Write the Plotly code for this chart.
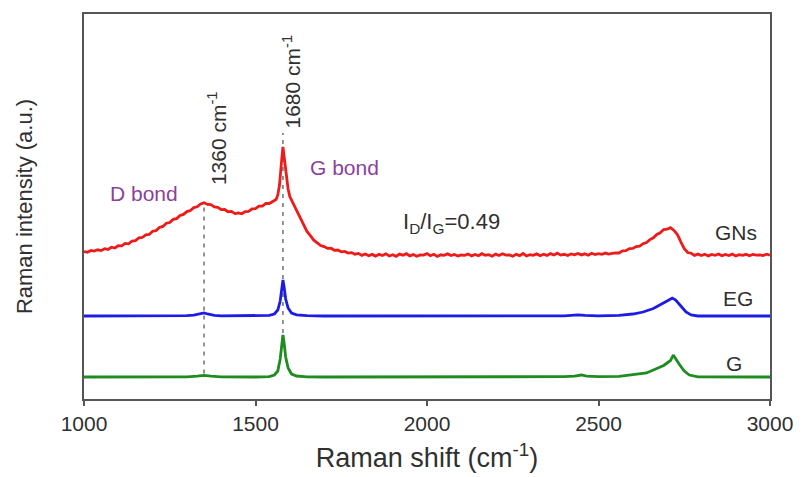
import plotly.graph_objects as go

# ---------------- data ----------------
# GNs spectrum (red), arbitrary intensity units incl. vertical offset
gns_x = [1000, 1010, 1020, 1030, 1040, 1050, 1060, 1070, 1080, 1090,
         1100, 1110, 1120, 1130, 1140, 1150, 1160, 1170, 1180, 1190,
         1200, 1210, 1220, 1230, 1240, 1250, 1260, 1270, 1280, 1290,
         1300, 1310, 1320, 1330, 1340, 1350, 1360, 1370, 1380, 1390,
         1400, 1410, 1420, 1430, 1440, 1450, 1460, 1470, 1480, 1490,
         1500, 1510, 1520, 1530, 1540, 1550, 1560, 1565, 1570, 1575,
         1580, 1585, 1590, 1595, 1600, 1610, 1620, 1630, 1640, 1650,
         1660, 1670, 1680, 1690, 1700, 1710, 1720, 1730, 1740, 1750,
         1760, 1770, 1780, 1790, 1800, 1810, 1820, 1830, 1840, 1850,
         1860, 1870, 1880, 1890, 1900, 1910, 1920, 1930, 1940, 1950,
         1960, 1970, 1980, 1990, 2000, 2010, 2020, 2030, 2040, 2050,
         2060, 2070, 2080, 2090, 2100, 2110, 2120, 2130, 2140, 2150,
         2160, 2170, 2180, 2190, 2200, 2210, 2220, 2230, 2240, 2250,
         2260, 2270, 2280, 2290, 2300, 2310, 2320, 2330, 2340, 2350,
         2360, 2370, 2380, 2390, 2400, 2410, 2420, 2430, 2440, 2450,
         2460, 2470, 2480, 2490, 2500, 2510, 2520, 2530, 2540, 2550,
         2560, 2570, 2580, 2590, 2600, 2610, 2620, 2630, 2640, 2650,
         2660, 2670, 2680, 2690, 2700, 2710, 2720, 2730, 2740, 2750,
         2760, 2770, 2780, 2790, 2800, 2810, 2820, 2830, 2840, 2850,
         2860, 2870, 2880, 2890, 2900, 2910, 2920, 2930, 2940, 2950,
         2960, 2970, 2980, 2990, 3000]
gns_y = [147.5, 146.8, 148.6, 147.9, 149.2, 148.4, 150.3, 149.6, 151.8, 151.0,
         153.4, 153.1, 155.6, 155.2, 158.0, 158.4, 161.2, 161.5, 164.1, 164.6,
         167.8, 168.4, 171.5, 172.6, 175.8, 176.5, 179.6, 180.4, 183.5, 184.6,
         187.4, 188.5, 191.4, 192.2, 195.0, 196.2, 194.6, 194.3, 192.0, 191.6,
         189.4, 189.5, 187.3, 187.6, 185.4, 186.0, 185.2, 187.4, 187.6, 190.2,
         190.4, 192.9, 193.0, 195.6, 195.5, 197.8, 199.5, 204.0, 214.0, 234.0,
         252.0, 238.0, 221.0, 210.0, 202.5, 195.4, 188.6, 180.8, 174.5, 167.6,
         163.4, 158.8, 156.2, 153.5, 152.4, 150.6, 150.8, 148.7, 149.0, 147.2,
         147.6, 145.9, 146.4, 144.8, 145.6, 143.6, 145.0, 143.2, 144.6, 142.9,
         144.8, 143.5, 145.2, 143.0, 144.3, 142.7, 144.9, 143.8, 145.3, 143.1,
         144.4, 142.8, 144.1, 143.9, 145.4, 143.3, 144.7, 142.6, 144.2, 143.7,
         145.1, 143.4, 144.5, 142.9, 144.0, 143.6, 145.0, 143.1, 144.6, 143.2,
         145.3, 143.8, 144.3, 142.8, 144.9, 143.5, 145.2, 143.9, 144.1, 142.7,
         144.6, 143.4, 145.5, 143.0, 144.4, 143.7, 145.1, 143.3, 144.8, 143.6,
         145.4, 144.0, 145.8, 143.9, 144.7, 143.5, 145.0, 144.2, 145.6, 144.1,
         145.2, 143.8, 145.7, 144.5, 145.3, 144.6, 145.9, 144.9, 145.6, 146.2,
         146.0, 148.1, 148.3, 150.4, 150.6, 152.5, 152.8, 155.3, 156.5, 159.4,
         161.2, 164.5, 166.2, 169.4, 169.8, 171.3, 168.6, 164.5, 157.2, 150.4,
         146.5, 145.8, 143.6, 144.9, 143.4, 144.8, 143.1, 144.5, 143.7, 145.0,
         143.2, 144.6, 143.5, 144.9, 143.0, 144.4, 143.6, 144.7, 143.3, 144.5,
         143.8, 144.2, 143.4, 144.8, 143.9]

# EG spectrum (blue)
eg_x = [1000, 1100, 1200, 1300, 1320, 1340, 1350, 1360, 1380, 1400,
        1500, 1540, 1555, 1565, 1572, 1577, 1580, 1583, 1588, 1595,
        1605, 1620, 1650, 1700, 1800, 2000, 2200, 2400, 2440, 2460,
        2500, 2560, 2600, 2630, 2660, 2680, 2700, 2715, 2725, 2740,
        2755, 2770, 2790, 2850, 3000]
eg_y = [83.0, 83.0, 83.2, 83.3, 83.8, 85.0, 86.0, 85.0, 83.7, 83.2,
        83.2, 83.6, 85.0, 89.0, 98.0, 112.0, 119.0, 113.0, 100.0, 91.0,
        86.0, 84.2, 83.3, 83.0, 83.0, 83.0, 83.2, 83.2, 84.2, 83.6,
        83.2, 83.6, 85.0, 87.0, 90.5, 94.0, 98.0, 101.0, 99.0, 93.0,
        87.0, 84.0, 83.0, 83.0, 83.0]

# G spectrum (green)
g_x = [1000, 1100, 1200, 1300, 1330, 1350, 1370, 1400, 1500, 1540,
       1555, 1565, 1572, 1577, 1580, 1583, 1588, 1595, 1605, 1620,
       1650, 1700, 1800, 2000, 2200, 2400, 2430, 2450, 2465, 2500,
       2560, 2600, 2640, 2670, 2690, 2700, 2710, 2718, 2725, 2735,
       2750, 2765, 2790, 2850, 3000]
g_y = [22.0, 22.0, 22.0, 22.2, 22.8, 23.6, 22.8, 22.2, 22.0, 22.3,
       24.0, 28.0, 40.0, 56.0, 64.0, 57.0, 42.0, 31.0, 25.0, 23.0,
       22.2, 22.0, 22.0, 22.0, 22.2, 22.3, 22.8, 24.0, 22.8, 22.3,
       22.6, 24.0, 26.0, 30.5, 33.5, 36.0, 38.5, 44.0, 40.0, 35.0,
       28.0, 24.0, 22.2, 22.0, 22.0]

peak_positions = [1350, 1580]          # D and G band centres
x_ticks = [1000, 1500, 2000, 2500, 3000]

RED = "#ee1b1b"
BLUE = "#1c1ce6"
GREEN = "#1e8c1e"
TEXT = "#303030"
PURPLE = "#8c3f9c"
FONT = "Liberation Sans, Arial, sans-serif"

fig = go.Figure()

# dashed guide lines at the D and G band positions (spanning from the G to GNs curve)
for px in peak_positions:
    y_low = g_y[g_x.index(min(g_x, key=lambda v: abs(v - px)))]
    y_high = gns_y[gns_x.index(min(gns_x, key=lambda v: abs(v - px)))]
    fig.add_trace(go.Scatter(
        x=[px, px], y=[y_low + 2, y_high + (14 if px == 1580 else 0)],
        mode="lines", line=dict(color="#7a7a7a", width=1.6, dash="4px,5px"),
        showlegend=False, hoverinfo="skip"))

for xs, ys, col, name in [(g_x, g_y, GREEN, "G"), (eg_x, eg_y, BLUE, "EG"),
                          (gns_x, gns_y, RED, "GNs")]:
    fig.add_trace(go.Scatter(x=xs, y=ys, mode="lines", name=name,
                             line=dict(color=col, width=2.8), showlegend=False))

ann = [
    dict(x=2968, y=167, text="GNs", xanchor="right", font=dict(size=21, color=TEXT)),
    dict(x=2955, y=101, text="EG", xanchor="right", font=dict(size=21, color=TEXT)),
    dict(x=2925, y=36, text="G", xanchor="right", font=dict(size=21, color=TEXT)),
    dict(x=1925, y=176, text="I<sub>D</sub>/I<sub>G</sub>=0.49", xanchor="left",
         font=dict(size=22, color=TEXT)),
    dict(x=1175, y=206, text="D bond", font=dict(size=21, color=PURPLE)),
    dict(x=1760, y=232, text="G bond", font=dict(size=21, color=PURPLE)),
    dict(x=1388, y=212, text="1360 cm<sup>-1</sup>", textangle=-90, yanchor="bottom",
         font=dict(size=21, color=TEXT)),
    dict(x=1605, y=268, text="1680 cm<sup>-1</sup>", textangle=-90, yanchor="bottom",
         font=dict(size=21, color=TEXT)),
]
for a in ann:
    a.setdefault("yanchor", "middle")
    a.setdefault("xanchor", "center")
    fig.add_annotation(xref="x", yref="y", showarrow=False, **a)

# the page body adds an 8px offset, so the margins compensate for it
fig.update_layout(
    width=808, height=477,
    margin=dict(l=76, r=46, t=6, b=86),
    paper_bgcolor="white", plot_bgcolor="white",
    font=dict(family=FONT, color=TEXT),
    xaxis=dict(range=[1000, 3000], tickvals=x_ticks, ticktext=[str(v) for v in x_ticks],
               ticks="outside", ticklen=5, tickwidth=1.5, tickcolor="#555",
               showline=True, linecolor="#555", linewidth=1.6, mirror=True,
               showgrid=False, zeroline=False, ticklabelstandoff=0, automargin=False,
               tickfont=dict(size=21, color=TEXT),
               title=dict(text="Raman shift (cm<sup>-1</sup>)", standoff=14,
                          font=dict(size=27, color=TEXT))),
    yaxis=dict(range=[0, 385], showticklabels=False, ticks="", automargin=False,
               showline=True, linecolor="#555", linewidth=1.6, mirror=True,
               showgrid=False, zeroline=False,
               title=dict(text="Raman intensity (a.u.)", standoff=44,
                          font=dict(size=22, color=TEXT))),
)

fig.write_html("out.html")
